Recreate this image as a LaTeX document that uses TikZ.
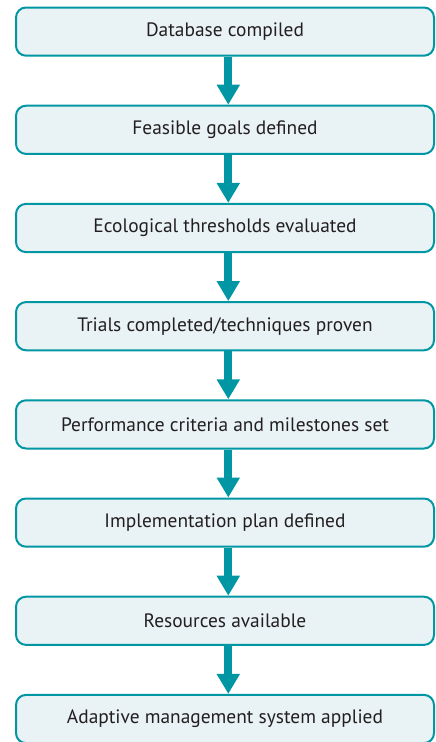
\documentclass[tikz,border=0pt]{standalone}
\usepackage{fontspec}
\setmainfont{PT Sans}
\usetikzlibrary{arrows.meta}
\definecolor{teal}{RGB}{0,150,163}
\definecolor{boxfill}{RGB}{233,242,245}
\definecolor{txt}{RGB}{35,31,32}
\tikzset{
  stepbox/.style={draw=teal, line width=2pt, fill=boxfill, rounded corners=10pt,
    minimum width=418pt, minimum height=48.2pt, inner sep=0pt, text=txt,
    font=\fontsize{19.4}{23}\selectfont},
  flowarrow/.style={draw=teal, line width=8pt,
    -{Triangle[width=22pt,length=20pt]}, shorten >=0pt}
}
\begin{document}
\begin{tikzpicture}[x=1pt,y=-1pt]
\useasboundingbox (0,0) rectangle (436,742);
\foreach \i/\t in {0/{Database compiled},1/{Feasible goals defined},2/{Ecological thresholds evaluated},3/{Trials completed/techniques proven},4/{Performance criteria and milestones set},5/{Implementation plan defined},6/{Resources available},7/{Adaptive management system applied}}{
  \node[stepbox] (b\i) at (225,31.6+98.2*\i) {\t};
}
\foreach \i in {0,...,6}{
  \pgfmathtruncatemacro{\j}{\i+1}
  \coordinate (s\i) at ([xshift=3.3pt]b\i.south);
  \coordinate (e\i) at ([xshift=3.3pt]b\j.north);
  \draw[flowarrow] (s\i) -- (e\i);
}
\end{tikzpicture}
\end{document}
